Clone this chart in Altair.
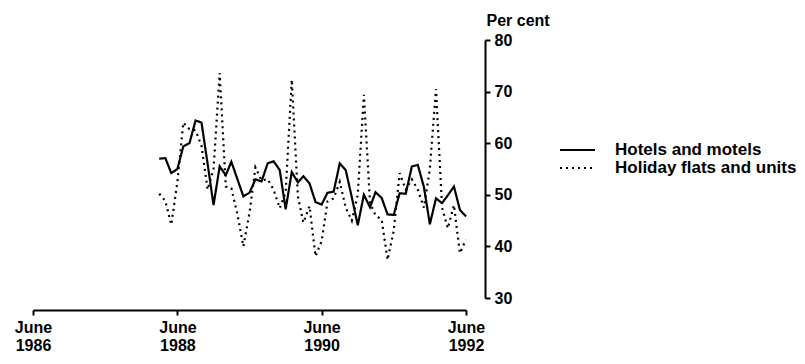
import altair as alt
import pandas as pd

# Monthly observations, March 1988 - June 1992 (occupancy rate, per cent)
months = pd.date_range("1988-03-01", "1992-06-01", freq="MS")

hotels = [
    57.0, 57.1, 54.2, 55.0, 59.4, 60.0, 64.4, 64.0, 56.0, 48.0,
    55.5, 53.8, 56.4, 53.0, 49.7, 50.4, 53.0, 52.6, 56.1, 56.5,
    54.8, 47.2, 54.4, 52.4, 53.6, 52.2, 48.6, 48.1, 50.4, 50.6,
    56.1, 54.8, 49.5, 44.1, 50.0, 47.6, 50.5, 49.4, 46.2, 46.1,
    50.3, 50.2, 55.5, 55.8, 51.5, 44.3, 49.3, 48.4, 49.9, 51.6,
    47.1, 45.8,
]

holiday = [
    50.2, 48.8, 44.2, 52.5, 64.0, 62.7, 62.5, 59.5, 51.0, 55.0,
    73.6, 51.6, 51.3, 46.2, 40.0, 46.5, 55.3, 52.8, 53.0, 51.0,
    47.4, 50.5, 72.3, 49.7, 44.6, 47.8, 38.1, 41.0, 48.7, 49.3,
    52.5, 47.5, 45.0, 50.0, 69.4, 48.5, 46.0, 45.2, 37.4, 43.0,
    54.2, 51.0, 53.0, 51.0, 47.5, 55.0, 70.5, 47.5, 43.5, 48.0,
    38.7, 41.3,
]

series_names = ["Hotels and motels", "Holiday flats and units"]
y_ticks = [30, 40, 50, 60, 70, 80]
x_tick_years = [1986, 1988, 1990, 1992]

df = pd.concat([
    pd.DataFrame({"date": months, "value": hotels, "series": series_names[0]}),
    pd.DataFrame({"date": months, "value": holiday, "series": series_names[1]}),
], ignore_index=True)
legend_df = pd.DataFrame({"series": series_names})

x_ticks = [alt.DateTime(year=y, month=6, date=1) for y in x_tick_years]

FONT = "Liberation Sans"

dash_scale = alt.Scale(domain=series_names, range=[[1, 0], [2, 4]])

lines = alt.Chart(df).mark_line(color="black", strokeWidth=2.2).encode(
    x=alt.X(
        "date:T",
        scale=alt.Scale(domain=[x_ticks[0], x_ticks[-1]]),
        axis=alt.Axis(
            values=x_ticks,
            labelExpr="['June', timeFormat(datum.value, '%Y')]",
            title=None, grid=False, offset=12,
            domainColor="black", domainWidth=2,
            tickColor="black", tickWidth=2, tickSize=5,
            labelFontSize=16, labelFont=FONT, labelFontWeight="bold",
            labelColor="black", labelLineHeight=18, labelPadding=4,
            labelFlush=False, labelOverlap=False,
        ),
    ),
    y=alt.Y(
        "value:Q",
        scale=alt.Scale(domain=[30, 80], nice=False, zero=False),
        axis=alt.Axis(
            orient="right", values=y_ticks, offset=19, grid=False,
            domainColor="black", domainWidth=2,
            tickColor="black", tickWidth=2, tickSize=5,
            labelFontSize=16, labelFont=FONT, labelFontWeight="bold",
            labelColor="black", labelPadding=4,
            title="Per cent", titleAngle=0, titleAlign="left",
            titleBaseline="alphabetic", titleX=1, titleY=-15,
            titleFont=FONT, titleFontSize=16, titleFontWeight="bold",
            titleColor="black",
        ),
    ),
    strokeDash=alt.StrokeDash("series:N", scale=dash_scale, legend=None),
)

# Key (legend) drawn beside the chart
key_y = alt.Y(
    "series:N",
    scale=alt.Scale(type="point", domain=series_names, range=[110, 128], padding=0),
    axis=None,
)

key_lines = alt.Chart(legend_df).mark_rule(color="black", strokeWidth=2.2).encode(
    x=alt.value(527),
    x2=alt.value(562),
    y=key_y,
    strokeDash=alt.StrokeDash("series:N", scale=dash_scale, legend=None),
)

key_text = alt.Chart(legend_df).mark_text(
    align="left", baseline="middle", font=FONT, fontSize=17,
    fontWeight="bold", color="black",
).encode(
    x=alt.value(582),
    y=key_y,
    text="series:N",
)

chart = alt.layer(lines, key_lines, key_text).resolve_scale(
    y="independent"
).properties(
    width=433, height=258,
    padding={"left": 25, "top": 32, "right": 330, "bottom": 62},
    autosize=alt.AutoSizeParams(type="none"),
).configure_view(stroke=None)

chart.save("out.html", embed_options={"renderer": "svg", "actions": False})
